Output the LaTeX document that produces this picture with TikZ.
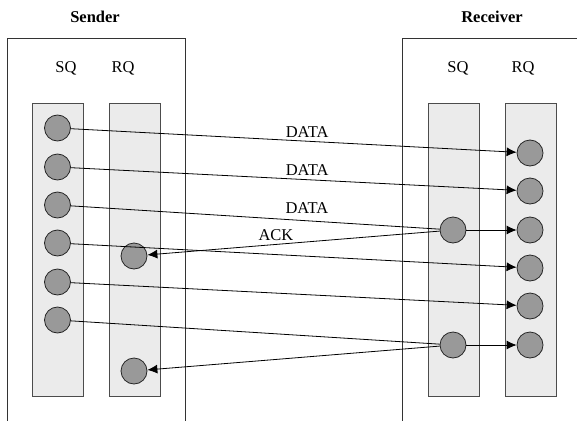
\documentclass[tikz,border=0pt]{standalone}
\usepackage{fontspec}
\setmainfont{Liberation Serif}
\usetikzlibrary{arrows.meta}

\begin{document}
\begin{tikzpicture}[x=1pt, y=-1pt,
    every node/.style={font=\fontsize{16.5}{19}\selectfont},
    host/.style={draw=black!80, line width=1pt},
    queue/.style={draw=black!70, fill=black!8, line width=1pt},
    msg/.style={circle, draw=black!85, fill=black!40, line width=0.8pt, minimum size=26pt, inner sep=0pt},
    link/.style={line width=0.8pt},
    sent/.style={link, -{Latex[length=10pt,width=9pt]}}]
    \useasboundingbox (0,0) rectangle (577,420);
    \clip (0,0) rectangle (577,420);

    % hosts
    \draw[host] (7,39) rectangle (185,440);
    \draw[host] (402,39) rectangle (600,440);
    \node[font=\fontsize{16.5}{19}\selectfont\bfseries] (sender) at (95,17) {Sender};
    \node[font=\fontsize{16.5}{19}\selectfont\bfseries] (receiver) at (492,17) {Receiver};

    % queues
    \draw[queue] (32,103) rectangle (83,396);
    \draw[queue] (109,103) rectangle (160,396);
    \draw[queue] (428,103) rectangle (479,396);
    \draw[queue] (505,103) rectangle (556,396);
    \node (ssq) at (66,68) {SQ};
    \node (srq) at (123,68) {RQ};
    \node (rsq) at (458,68) {SQ};
    \node (rrq) at (523,68) {RQ};

    % messages
    \foreach \y [count=\i] in {128,167,205,243,282,320}
        \node[msg] (s\i) at (57.5,\y) {};
    \foreach \y [count=\i] in {153,191,230,268,306,345}
        \node[msg] (r\i) at (530,\y) {};
    \node[msg] (ra) at (453,230) {};
    \node[msg] (rb) at (453,345) {};
    \node[msg] (sa) at (134,256) {};
    \node[msg] (sb) at (134,371) {};

    % transfers
    \draw[sent] (s1) -- node[above, pos=0.53] {DATA} (r1);
    \draw[sent] (s2) -- node[above, pos=0.53] {DATA} (r2);
    \draw[link] (s3) -- node[above=4pt, pos=0.64] {DATA} (ra);
    \draw[sent] (ra) -- (r3);
    \draw[sent] (ra) -- node[above, pos=0.56] {ACK} (sa);
    \draw[sent] (s4) -- (r4);
    \draw[sent] (s5) -- (r5);
    \draw[link] (s6) -- (rb);
    \draw[sent] (rb) -- (r6);
    \draw[sent] (rb) -- (sb);
\end{tikzpicture}
\end{document}
